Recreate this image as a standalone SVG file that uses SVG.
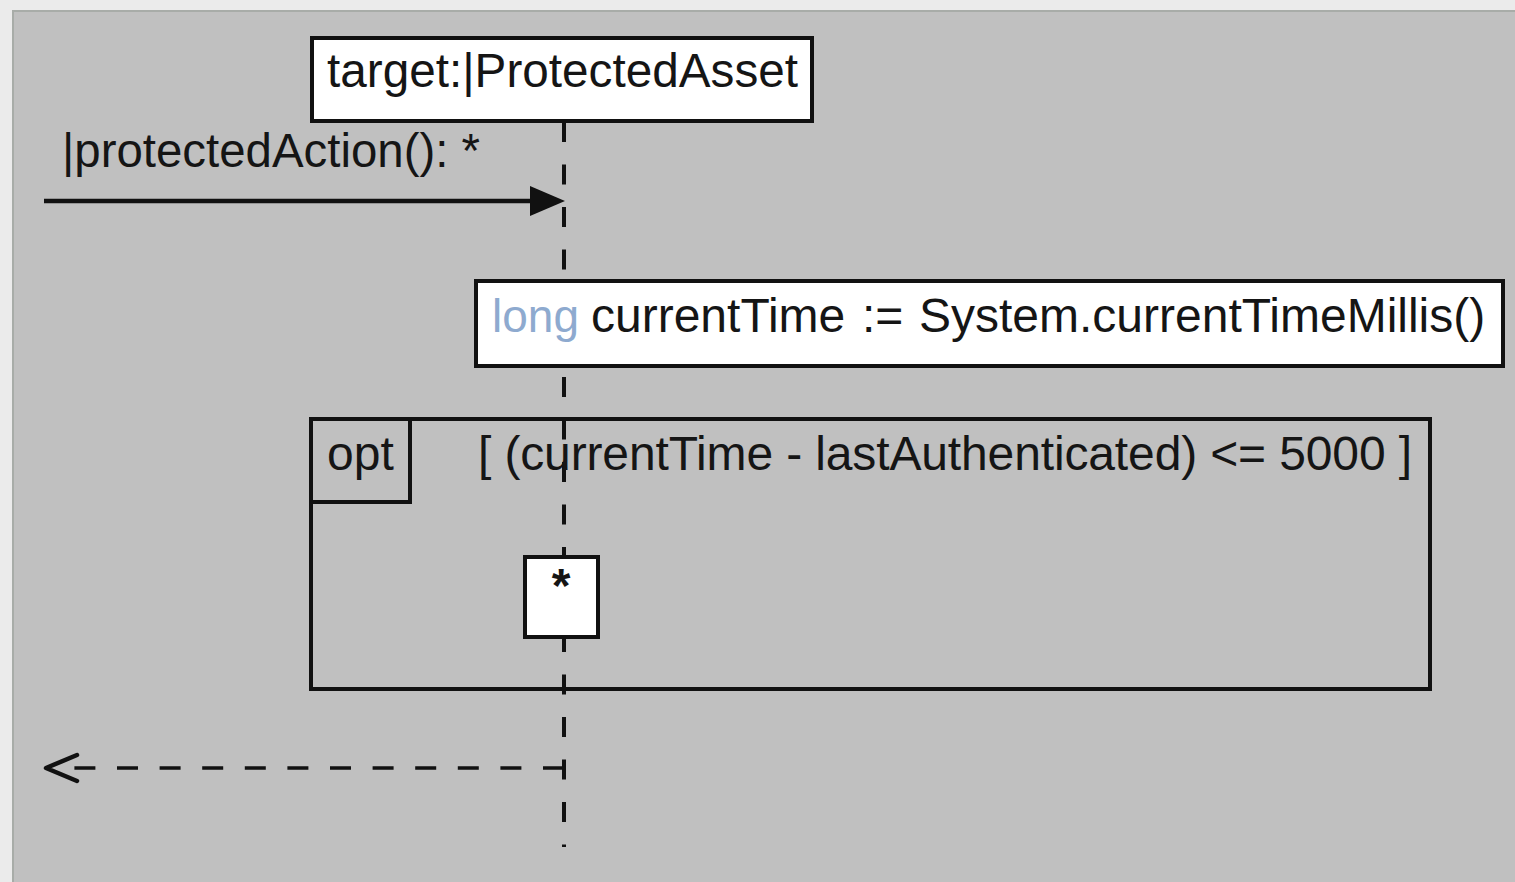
<svg xmlns="http://www.w3.org/2000/svg" width="1515" height="882" viewBox="0 0 1515 882">
  <style>
    .bx { fill: #ffffff; stroke: #111111; stroke-width: 4; }
    .frame { fill: none; stroke: #111111; stroke-width: 4; }
    .t { font-family: "Liberation Sans", Arial, Helvetica, sans-serif; font-size: 48px; fill: #151515; }
    .kw { fill: #8eaacf; }
    .life { stroke: #111111; stroke-width: 4; stroke-dasharray: 20 22.5; fill: none; }
    .msg { stroke: #111111; stroke-width: 4.5; fill: none; }
    .ret { stroke: #111111; stroke-width: 3.5; stroke-dasharray: 21 21.6; fill: none; }
  </style>
  <defs>
    <marker id="filled" viewBox="0 -16 36 32" refX="10" refY="0" markerWidth="36" markerHeight="32" markerUnits="userSpaceOnUse" orient="auto" overflow="visible">
      <path d="M0,-15 L35,0 L0,15 Z" fill="#111111"/>
    </marker>
    <marker id="open" viewBox="-40 -17 44 34" refX="-28" refY="0" markerWidth="44" markerHeight="34" markerUnits="userSpaceOnUse" orient="auto" overflow="visible">
      <path d="M-31,-13 L0,0 L-31,13" fill="none" stroke="#111111" stroke-width="4.5" stroke-linejoin="round" stroke-linecap="round"/>
    </marker>
  </defs>

  <!-- background -->
  <rect x="0" y="0" width="1515" height="882" fill="#ebebeb"/>
  <rect x="13" y="11" width="1510" height="880" fill="#c0c0c0" stroke="#a8aca8" stroke-width="2"/>

  <!-- lifeline -->
  <g id="lifeline">
    <line class="life" x1="564" y1="122" x2="564" y2="847"/>
  </g>

  <!-- lifeline head -->
  <g id="target">
    <rect class="bx" x="312" y="38" width="500" height="83"/>
    <text class="t" x="327" y="87" textLength="471" lengthAdjust="spacingAndGlyphs">target:|ProtectedAsset</text>
  </g>

  <!-- action box -->
  <g id="action">
    <rect class="bx" x="476" y="281" width="1027" height="85"/>
    <text class="t" y="332"><tspan class="kw" x="492" font-size="46">long</tspan><tspan x="591">currentTime</tspan><tspan x="862">:=</tspan><tspan x="919">System.currentTimeMillis()</tspan></text>
  </g>

  <!-- opt combined fragment -->
  <g id="opt">
    <rect class="frame" x="311" y="419" width="1119" height="270"/>
    <rect class="frame" x="311" y="419" width="99" height="83"/>
    <text class="t" x="327" y="470">opt</text>
    <text class="t" x="478" y="470" textLength="934" lengthAdjust="spacing">[ (currentTime - lastAuthenticated) &lt;= 5000 ]</text>
  </g>

  <!-- activation -->
  <g id="activation">
    <rect class="bx" x="525" y="557" width="73" height="80"/>
    <text class="t" x="561" y="602" text-anchor="middle" font-size="40" font-weight="bold">*</text>
  </g>

  <!-- connectors -->
  <g id="connectors">
    <line class="msg" x1="44" y1="201" x2="540" y2="201" marker-end="url(#filled)"/>
    <text class="t" x="62" y="167" textLength="418" lengthAdjust="spacingAndGlyphs">|protectedAction(): *</text>
    <line class="ret" x1="564" y1="768" x2="74" y2="768" marker-end="url(#open)"/>
  </g>
</svg>
